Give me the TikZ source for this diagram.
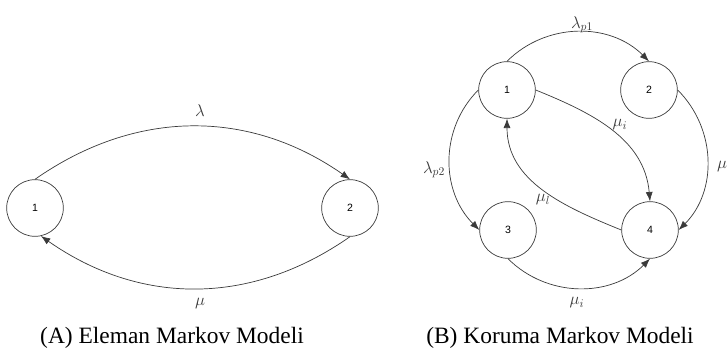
\documentclass[tikz,border=0pt]{standalone}
\usepackage{fontspec}
\setmainfont{Liberation Serif}
\setsansfont{Liberation Sans}
\usetikzlibrary{arrows.meta}
\definecolor{diagline}{HTML}{3A3A3A}
\tikzset{
  state/.style={circle, draw=diagline, line width=0.6pt, minimum size=1.7cm,
    inner sep=0pt, font=\sffamily\fontsize{9}{10}\selectfont},
  trans/.style={draw=diagline, line width=0.6pt,
    -{Latex[length=2.8mm,width=2.1mm]}},
  rate/.style={font=\fontsize{14}{16}\selectfont, text=diagline},
  caption/.style={font=\fontsize{20}{22}\selectfont}
}

\begin{document}
\begin{tikzpicture}[x=0.03cm, y=0.03cm]
  \useasboundingbox (0,0) rectangle (727,355);

  % (A) two-state model
  \node[state] (a1) at (35,147) {1};
  \node[state] (a2) at (350,147) {2};
  \draw[trans] (a1.north) to[out=35,in=145] (a2.north);
  \draw[trans] (a2.south) to[out=-145,in=-35] (a1.-78);
  \node[rate] (lam) at (200,244) {$\lambda$};
  \node[rate] (mu) at (200,51) {$\mu$};
  \node[caption] (capA) at (172,17) {(A) Eleman Markov Modeli};

  % (B) protection model
  \node[state] (b1) at (507,265) {1};
  \node[state] (b2) at (649,265) {2};
  \node[state] (b3) at (508,125) {3};
  \node[state] (b4) at (650,125) {4};
  \draw[trans] (b1.north) to[out=45,in=135] (b2.north);
  \draw[trans] (b1.west) to[out=225,in=135] (b3.west);
  \draw[trans] (b2.east) to[out=-45,in=45] (b4.east);
  \draw[trans] (b3.south) to[out=-45,in=-135] (b4.south);
  \draw[trans] (b1.east) to[out=-22,in=95] (b4.north);
  \draw[trans] (b4.west) to[out=158,in=-90] (b1.south);
  \node[rate] (lp1) at (582,330) {$\lambda_{p1}$};
  \node[rate] (lp2) at (434,185) {$\lambda_{p2}$};
  \node[rate] (mur) at (722,188) {$\mu$};
  \node[rate] (mud) at (620,230) {$\mu_i$};
  \node[rate] (mul) at (543,155) {$\mu_l$};
  \node[rate] (mub) at (577,52) {$\mu_i$};
  \node[caption] (capB) at (560,17) {(B) Koruma Markov Modeli};
\end{tikzpicture}
\end{document}
